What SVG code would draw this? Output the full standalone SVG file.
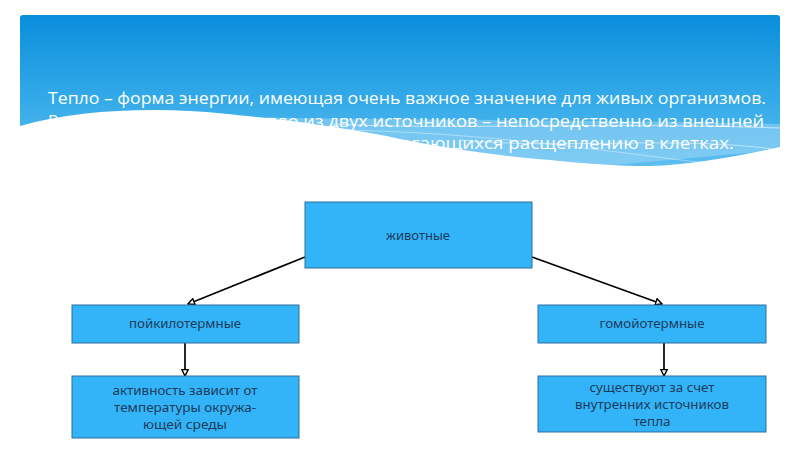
<svg xmlns="http://www.w3.org/2000/svg" width="800" height="450" viewBox="0 0 800 450">
  <defs>
    <linearGradient id="bannerGrad" x1="0" y1="0" x2="0" y2="1">
      <stop offset="0" stop-color="#0a8edc"/>
      <stop offset="0.55" stop-color="#36abe9"/>
      <stop offset="1" stop-color="#62c0f1"/>
    </linearGradient>
    <marker id="arrow" viewBox="0 0 10 10" refX="9" refY="5" markerWidth="8" markerHeight="8" markerUnits="userSpaceOnUse" orient="auto">
      <path d="M1,1 L9,5 L1,9 Z" fill="#ffffff" stroke="#000000" stroke-width="1.8"/>
    </marker>
    <style>
      .title { font-family: "Open Sans", "Noto Sans", "DejaVu Sans", sans-serif; font-size: 16px; fill: #ffffff; }
      .box { fill: #33b4f8; stroke: #2f6f9c; stroke-width: 1; }
      .label { font-family: "Noto Sans", "DejaVu Sans", sans-serif; font-size: 13px; fill: #1d3b5a; text-anchor: middle; }
      .edge { stroke: #000000; stroke-width: 1.7; fill: none; marker-end: url(#arrow); }
    </style>
  </defs>

  <rect x="0" y="0" width="800" height="450" fill="#ffffff"/>

  <g id="banner">
    <path d="M20,18 Q20,15 23,15 L777,15 Q780,15 780,18 L780,175 L20,175 Z" fill="url(#bannerGrad)"/>
    <path d="M250,117 C400,121 600,119 780,124 L780,150 L580,168 L300,125 Z" fill="#a4daf8" opacity="0.5"/>
    <path d="M330,124 C450,130 600,122 780,128" fill="none" stroke="#ffffff" stroke-width="1" opacity="0.6"/>
    <path d="M460,140 C560,150 680,135 780,150" fill="none" stroke="#ffffff" stroke-width="1" opacity="0.5"/>
    <path d="M300,130 C450,128 600,150 720,165" fill="none" stroke="#ffffff" stroke-width="1" opacity="0.4"/>
    <text class="title" x="48" y="104" textLength="718" lengthAdjust="spacingAndGlyphs">Тепло – форма энергии, имеющая очень важное значение для живых организмов.</text>
    <text class="title" x="48" y="127">В</text>
    <text class="title" x="247" y="127" textLength="517" lengthAdjust="spacingAndGlyphs">тепло из двух источников – непосредственно из внешней</text>
    <text class="title" x="400" y="149" textLength="334" lengthAdjust="spacingAndGlyphs">ргающихся расщеплению в клетках.</text>
    <path d="M0,126 L20,126 C70,112 130,108 190,111 C225,113 255,117 300,122 C340,128 370,132 400,139 C450,149 500,156 550,160 C590,164 620,166 650,166 C690,165 740,156 780,147 L800,147 L800,200 L0,200 Z" fill="#ffffff"/>
  </g>

  <g id="connectors">
    <line class="edge" x1="305" y1="257" x2="188" y2="304"/>
    <line class="edge" x1="532" y1="257" x2="662" y2="304"/>
    <line class="edge" x1="185" y1="343" x2="185" y2="376"/>
    <line class="edge" x1="664" y1="343" x2="664" y2="376"/>
  </g>

  <g id="node-animals">
    <rect class="box" x="305" y="202" width="227" height="66"/>
    <text class="label" x="418" y="240" textLength="64" lengthAdjust="spacingAndGlyphs">животные</text>
  </g>

  <g id="node-poikilo">
    <rect class="box" x="72" y="305" width="227" height="38"/>
    <text class="label" x="185" y="328" textLength="112" lengthAdjust="spacingAndGlyphs">пойкилотермные</text>
  </g>

  <g id="node-homeo">
    <rect class="box" x="538" y="305" width="228" height="38"/>
    <text class="label" x="652" y="328" textLength="105" lengthAdjust="spacingAndGlyphs">гомойотермные</text>
  </g>

  <g id="node-activity">
    <rect class="box" x="72" y="376" width="227" height="62"/>
    <text class="label" x="185" y="395" textLength="145" lengthAdjust="spacingAndGlyphs">активность зависит от</text>
    <text class="label" x="185" y="412" textLength="142" lengthAdjust="spacingAndGlyphs">температуры окружа-</text>
    <text class="label" x="185" y="429" textLength="84" lengthAdjust="spacingAndGlyphs">ющей среды</text>
  </g>

  <g id="node-internal">
    <rect class="box" x="538" y="376" width="228" height="56"/>
    <text class="label" x="652" y="392" textLength="125" lengthAdjust="spacingAndGlyphs">существуют за счет</text>
    <text class="label" x="652" y="409" textLength="154" lengthAdjust="spacingAndGlyphs">внутренних источников</text>
    <text class="label" x="652" y="426" textLength="37" lengthAdjust="spacingAndGlyphs">тепла</text>
  </g>
</svg>
